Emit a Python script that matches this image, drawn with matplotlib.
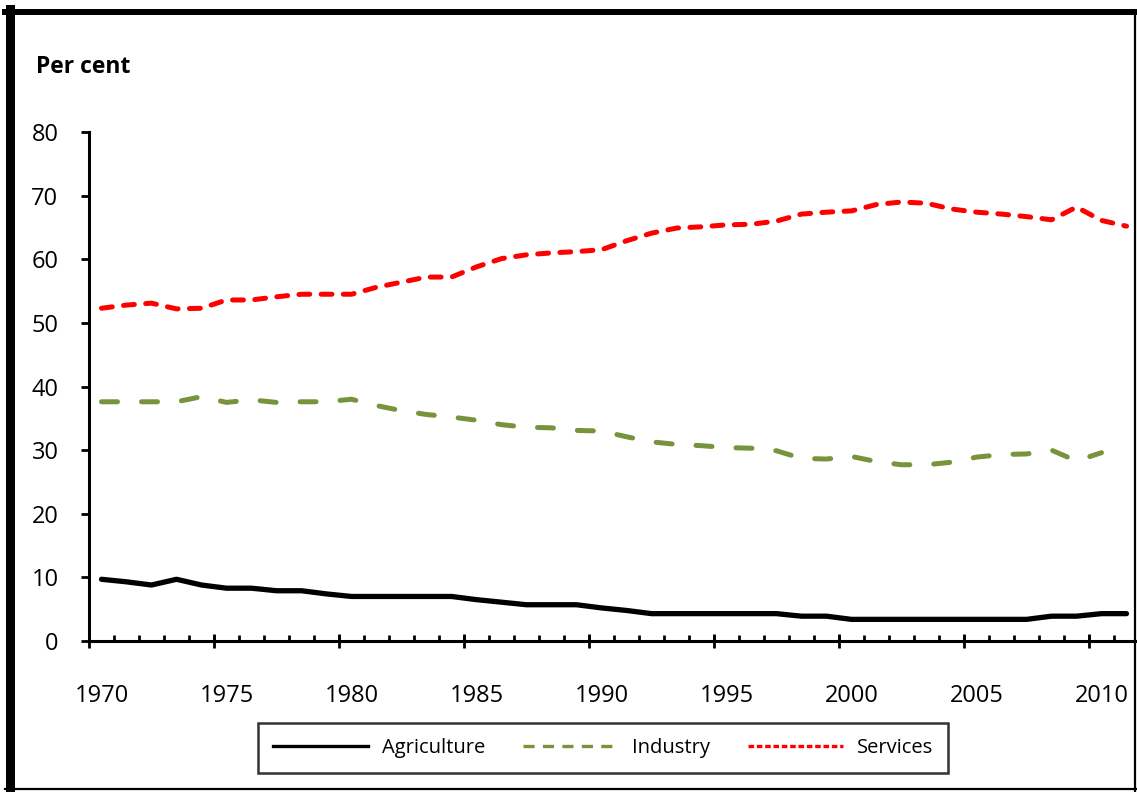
import numpy as np
import matplotlib
matplotlib.use('Agg')
import matplotlib.pyplot as plt
from matplotlib.lines import Line2D

plt.rcParams['font.family'] = ['Open Sans', 'DejaVu Sans']
plt.rcParams['lines.scale_dashes'] = False

years = list(range(1970, 2012))
agriculture = [9.7, 9.3, 8.8, 9.7, 8.8, 8.3, 8.3, 7.9, 7.9, 7.4,
               7.0, 7.0, 7.0, 7.0, 7.0, 6.5, 6.1, 5.7, 5.7, 5.7,
               5.2, 4.8, 4.3, 4.3, 4.3, 4.3, 4.3, 4.3, 3.9, 3.9,
               3.4, 3.4, 3.4, 3.4, 3.4, 3.4, 3.4, 3.4, 3.9, 3.9,
               4.3, 4.3]
industry = [37.6, 37.6, 37.6, 37.6, 38.4, 37.5, 37.9, 37.5, 37.6, 37.6,
            38.0, 37.0, 36.2, 35.6, 35.2, 34.7, 34.0, 33.6, 33.5, 33.1,
            33.0, 32.1, 31.3, 30.9, 30.7, 30.4, 30.3, 29.9, 28.7, 28.6,
            29.0, 28.2, 27.7, 27.7, 28.1, 28.9, 29.3, 29.4, 30.0, 28.3,
            29.6, None]
services = [52.3, 52.8, 53.1, 52.2, 52.3, 53.6, 53.6, 54.1, 54.5, 54.5,
            54.5, 55.6, 56.4, 57.2, 57.2, 58.8, 60.1, 60.7, 61.0, 61.2,
            61.5, 62.9, 64.1, 64.9, 65.1, 65.4, 65.5, 66.0, 67.1, 67.4,
            67.6, 68.6, 69.0, 68.8, 67.9, 67.4, 67.1, 66.7, 66.2, 68.2,
            66.1, 65.2]
label_years = [1970, 1975, 1980, 1985, 1990, 1995, 2000, 2005, 2010]

GREEN = '#77933C'
RED = '#FF0000'

W, H = 1137, 792
fig = plt.figure(figsize=(W / 100, H / 100), dpi=100)
ax = fig.add_axes([89 / W, 1 - 641 / H, 1050 / W, 509 / H])

x = np.arange(len(years))
ind = np.array([np.nan if v is None else v for v in industry], dtype=float)

ax.plot(x, agriculture, color='black', lw=3.8, solid_capstyle='round',
        solid_joinstyle='round', label='Agriculture')
ax.plot(x, ind, color=GREEN, lw=3.6, dashes=(11.5, 17.3),
        dash_capstyle='round', dash_joinstyle='round', label='Industry')
ax.plot(x, services, color=RED, lw=3.6, dashes=(7.8, 8.2),
        dash_capstyle='round', dash_joinstyle='round', label='Services')

ax.set_xlim(-0.5, len(years) - 0.5)
ax.set_ylim(0, 80)
ax.set_yticks(range(0, 81, 10))
for s in ['top', 'right']:
    ax.spines[s].set_visible(False)
for s in ['left', 'bottom']:
    ax.spines[s].set_linewidth(2.2)

ax.tick_params(axis='y', direction='out', length=6, width=2, pad=16,
               labelsize=17)
# year labels sit on the category centres
ax.set_xticks([years.index(y) for y in label_years])
ax.set_xticklabels([str(y) for y in label_years])
ax.tick_params(axis='x', which='major', length=0, pad=31, labelsize=17)
ax.set_xticks(np.arange(-0.5, len(years)), minor=True)
ax.tick_params(axis='x', which='minor', direction='in', length=4, width=2)

# longer crossing ticks on every fifth category boundary
sec = ax.secondary_xaxis('bottom')
sec.set_xticks(np.arange(-0.5, len(years), 5))
sec.tick_params(direction='inout', length=10, width=2, labelbottom=False)
sec.spines['bottom'].set_visible(False)

fig.text(36 / W, 1 - 67 / H, 'Per cent', fontsize=16.5, fontweight='bold',
         va='center', ha='left')

handles = [Line2D([], [], color='black', lw=2.4),
           Line2D([], [], color=GREEN, lw=2.4, dashes=(8, 6)),
           Line2D([], [], color=RED, lw=2.4, dashes=(4, 2))]
leg = fig.legend(handles, ['Agriculture', 'Industry', 'Services'], ncol=3,
                 loc='center', mode='expand', borderaxespad=0,
                 bbox_to_anchor=(258 / W, 1 - 776 / H, 690 / W, 56 / H),
                 fontsize=14.5, frameon=True, fancybox=False,
                 handlelength=4.7, handletextpad=0.7, columnspacing=1.4,
                 borderpad=0.75)
leg.get_frame().set_edgecolor('black')
leg.get_frame().set_linewidth(1.8)

# outer frame of the figure box
fig.add_artist(Line2D([9.5 / W, 9.5 / W], [1 - 9 / H, 0], color='black',
                      lw=6.5, transform=fig.transFigure))
fig.add_artist(Line2D([5 / W, 1], [1 - 12 / H, 1 - 12 / H], color='black',
                      lw=4.3, transform=fig.transFigure))
fig.add_artist(Line2D([1135 / W, 1135 / W], [1 - 12 / H, 0], color='black',
                      lw=1.6, transform=fig.transFigure))
fig.add_artist(Line2D([5 / W, 1], [1 - 789 / H, 1 - 789 / H], color='black',
                      lw=1.6, transform=fig.transFigure))

fig.savefig('out.png', dpi=100)
